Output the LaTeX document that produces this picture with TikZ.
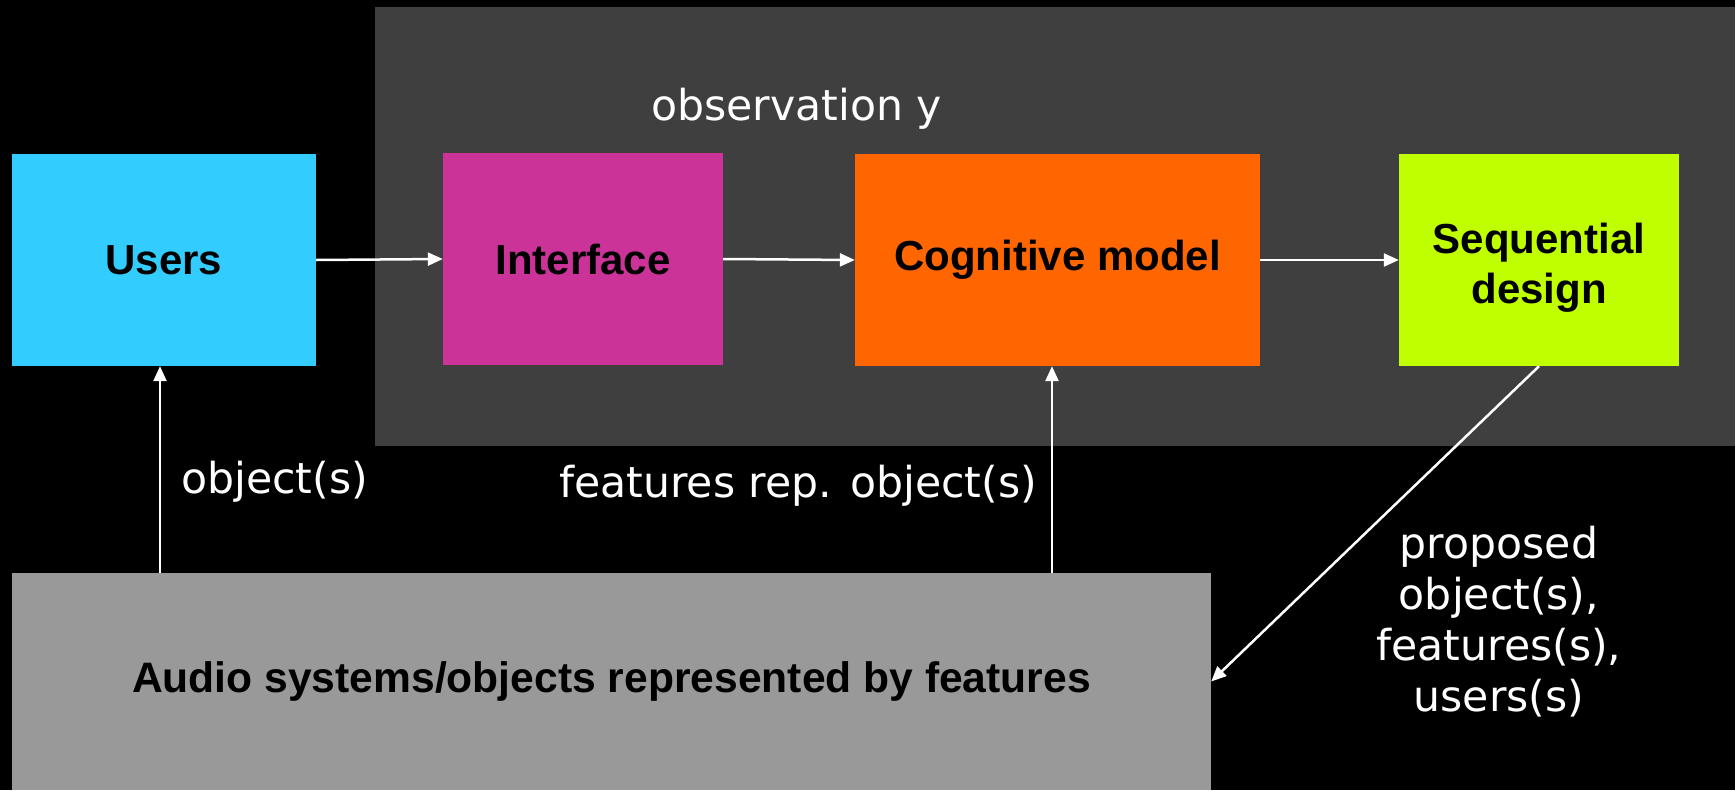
\documentclass[tikz,border=0pt]{standalone}
\usepackage{fontspec}
\setmainfont{Liberation Sans}
\newfontfamily\labfont{DejaVu Sans}
\usetikzlibrary{arrows.meta}
\definecolor{bgpanel}{HTML}{3F3F3F}
\definecolor{cusers}{HTML}{33CCFF}
\definecolor{cinter}{HTML}{CC3399}
\definecolor{ccog}{HTML}{FF6600}
\definecolor{cseq}{HTML}{C0FF00}
\definecolor{caudio}{HTML}{999999}
\tikzset{
  blockbox/.style={inner sep=0pt, minimum height=212pt, font=\fontsize{42}{50}\selectfont\bfseries, text=black, align=center},
  wlabel/.style={inner sep=0pt, text=white, font=\labfont\fontsize{42.6}{51}\selectfont},
  arr/.style={draw=white, line width=2.5pt, -{Triangle[length=15pt,width=13pt]}}
}
\begin{document}
\begin{tikzpicture}[x=1pt,y=-1pt]
\useasboundingbox (0,0) rectangle (1735,790);
\fill[black] (0,0) rectangle (1735,790);
\fill[bgpanel] (375,7) rectangle (1735,446);
\node[blockbox, fill=cusers, minimum width=304pt] (users) at (164,260) {Users};
\node[blockbox, fill=cinter, minimum width=280pt] (inter) at (583,259) {Interface};
\node[blockbox, fill=ccog, minimum width=405pt] (cog) at (1057.5,260) {Cognitive model};
\node[blockbox, fill=cseq, minimum width=280pt] (seq) at (1539,260) {\raisebox{-14.5pt}[0pt][0pt]{\begin{tabular}{@{}c@{}}Sequential\\design\end{tabular}}};
\node[blockbox, fill=caudio, minimum width=1199pt, minimum height=217pt, font=\fontsize{42.6}{50}\selectfont\bfseries] (audio) at (611.5,681.5) {Audio systems/objects represented by features};
\node[wlabel, anchor=base west] (obs) at (651,120) {observation y};
\node[wlabel, anchor=base west] (objl) at (181,493) {object(s)};
\node[wlabel, anchor=base west] (featl) at (559,497) {features rep. object(s)};
\node[wlabel, align=center] (propl) at (1499,622) {proposed\\object(s),\\features(s),\\users(s)};
\coordinate (c1) at (160,0);
\coordinate (c2) at (1052,0);
\draw[arr] (users.east) -- (inter.west);
\draw[arr] (inter.east) -- (cog.west);
\draw[arr] (cog.east) -- (seq.west);
\draw[arr] (audio.north -| c1) -- (users.south -| c1);
\draw[arr] (audio.north -| c2) -- (cog.south -| c2);
\draw[arr] (seq.south) -- (audio.east);
\end{tikzpicture}
\end{document}
